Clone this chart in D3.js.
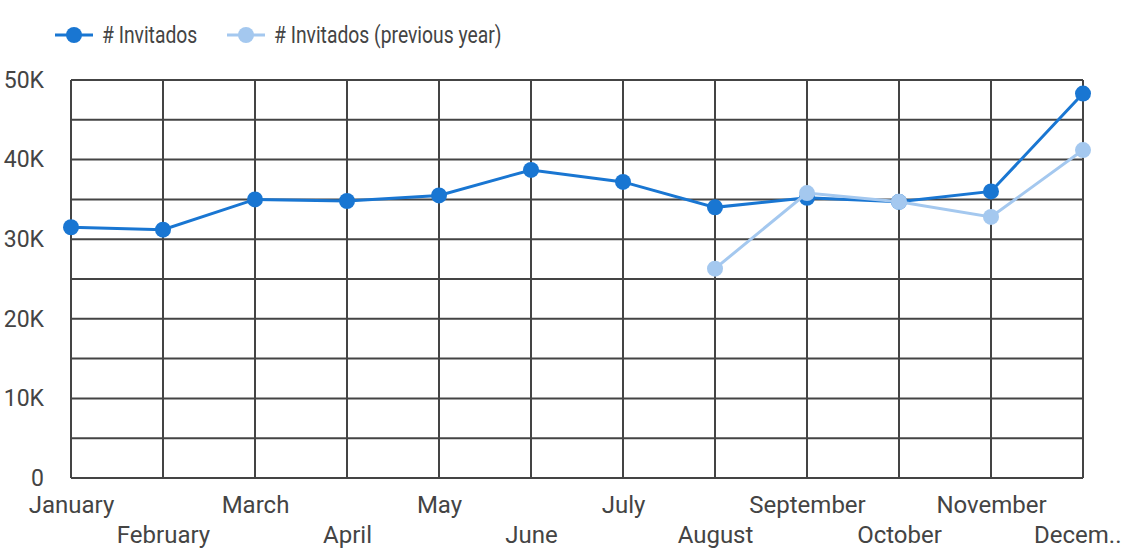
<!DOCTYPE html>
<head>
  <meta charset="utf-8">
  <script src="https://d3js.org/d3.v7.min.js"></script>
  <style>
    body { margin: 0; background: #fff; }
    text { font-family: Roboto, "Noto Sans", sans-serif; fill: #444; }
  </style>
</head>
<body>
<script>
  var months = ['January', 'February', 'March', 'April', 'May', 'June', 'July',
    'August', 'September', 'October', 'November', 'December'];
  // # Invitados, this year
  var invitados = [31500, 31200, 35000, 34800, 35500, 38700, 37200, 34000, 35200, 34700, 36000, 48300];
  // previous year, only from August
  var prevMonths = ['August', 'September', 'October', 'November', 'December'];
  var invitadosPrev = [26300, 35800, 34700, 32800, 41200];
  var yTicks = [0, 10000, 20000, 30000, 40000, 50000];

  var outerWidth = 1122, outerHeight = 549;
  var margin = { top: 80, left: 71, right: 39, bottom: 71 };
  var width = outerWidth - margin.left - margin.right,
    height = outerHeight - margin.top - margin.bottom;

  var darkBlue = '#1976d2', lightBlue = '#a4c8ef', gridColor = '#444';

  var svg = d3.select('body').append('svg')
    .attr('width', outerWidth)
    .attr('height', outerHeight);

  var g = svg.append('g')
    .attr('transform', 'translate(' + margin.left + ' ' + margin.top + ')');

  var xScale = d3.scalePoint().domain(months).range([0, width]);
  var yScale = d3.scaleLinear().domain([0, 50000]).range([height, 0]);

  // horizontal grid every 5K
  g.append('g').selectAll('line')
    .data(d3.range(0, 50001, 5000))
    .enter().append('line')
    .attr('x1', 0).attr('x2', width)
    .attr('y1', function(d) { return yScale(d); })
    .attr('y2', function(d) { return yScale(d); })
    .attr('stroke', gridColor).attr('stroke-width', 2);

  // vertical grid at each month
  g.append('g').selectAll('line')
    .data(months)
    .enter().append('line')
    .attr('x1', function(d) { return xScale(d); })
    .attr('x2', function(d) { return xScale(d); })
    .attr('y1', 0).attr('y2', height)
    .attr('stroke', gridColor).attr('stroke-width', 2);

  // y axis labels
  var yAxis = d3.axisLeft(yScale)
    .tickValues(yTicks)
    .tickSize(0)
    .tickPadding(27)
    .tickFormat(function(d) { return d === 0 ? '0' : (d / 1000) + 'K'; });
  var yAxisContainer = g.append('g').call(yAxis);
  yAxisContainer.select('.domain').remove();
  yAxisContainer.selectAll('text').attr('font-size', 23).attr('fill', '#444');

  // x axis labels, staggered in two rows
  var xAxis = d3.axisBottom(xScale).tickSize(0).tickPadding(0);
  var xAxisContainer = g.append('g')
    .attr('transform', 'translate(0 ' + height + ')')
    .call(xAxis);
  xAxisContainer.select('.domain').remove();
  xAxisContainer.selectAll('text')
    .attr('font-size', 24).attr('fill', '#444')
    .attr('dy', null)
    .attr('y', function(d, i) { return i % 2 === 0 ? 35 : 65; })
    .each(function(d) {
      // truncate labels running past the right edge, then pin them to it
      var el = d3.select(this), label = el.text();
      var box = this.getBBox();
      var tickX = xScale(d) + margin.left;
      if (tickX + box.width / 2 <= outerWidth) return;
      while (tickX + box.width / 2 > outerWidth + 5 && label.length > 1) {
        label = label.slice(0, -1);
        el.text(label + '..');
        box = this.getBBox();
      }
      el.attr('text-anchor', 'end').attr('x', outerWidth - tickX - 1);
    });

  var line = d3.line()
    .x(function(d) { return xScale(d.month); })
    .y(function(d) { return yScale(d.value); });

  var current = months.map(function(m, i) { return { month: m, value: invitados[i] }; });
  var previous = prevMonths.map(function(m, i) { return { month: m, value: invitadosPrev[i] }; });

  function drawSeries(data, color) {
    g.append('path')
      .datum(data)
      .attr('d', line)
      .attr('fill', 'none')
      .attr('stroke', color)
      .attr('stroke-width', 3);
    g.append('g').selectAll('circle')
      .data(data)
      .enter().append('circle')
      .attr('cx', function(d) { return xScale(d.month); })
      .attr('cy', function(d) { return yScale(d.value); })
      .attr('r', 8)
      .attr('fill', color);
  }
  drawSeries(current, darkBlue);
  drawSeries(previous, lightBlue);

  // legend (narrow text like the original)
  var legendItems = [
    { label: '# Invitados', color: darkBlue, x: 55 },
    { label: '# Invitados (previous year)', color: lightBlue, x: 227 }
  ];
  var legend = svg.append('g').selectAll('g')
    .data(legendItems)
    .enter().append('g')
    .attr('transform', function(d) { return 'translate(' + d.x + ' 35)'; });
  legend.append('line')
    .attr('x1', 0).attr('x2', 38)
    .attr('stroke', function(d) { return d.color; })
    .attr('stroke-width', 3);
  legend.append('circle')
    .attr('cx', 19).attr('r', 8)
    .attr('fill', function(d) { return d.color; });
  legend.append('text')
    .attr('transform', 'translate(47 0) scale(0.84 1)')
    .attr('dy', '0.35em')
    .attr('font-size', 23)
    .text(function(d) { return d.label; });
</script>
</body>
